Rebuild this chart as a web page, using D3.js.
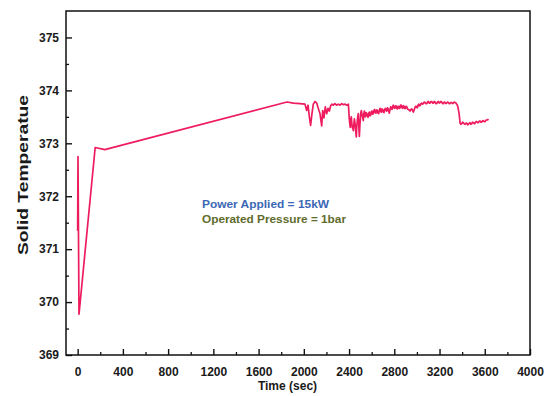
<!DOCTYPE html>
<html>
<head>
<meta charset="utf-8">
<script src="https://cdn.jsdelivr.net/npm/d3@7"></script>
<style>
  html, body { margin: 0; padding: 0; background: #fff; }
  svg { display: block; }
  text { font-family: "Liberation Sans", Arial, sans-serif; font-weight: bold; }
</style>
</head>
<body>
<svg id="chart" width="550" height="396"></svg>
<script>
// Time axis (seconds) and solid temperature readings
const timeSec = [
  0, 3, 12, 155, 240, 1851,
  1907, 1966, 2010, 2025, 2037, 2049, 2060, 2072, 2084, 2099, 2114, 2128, 2143, 2158,
  2167, 2178, 2190, 2202, 2214, 2226, 2237, 2249, 2261, 2275, 2290, 2305, 2320, 2335,
  2349, 2365, 2380, 2394, 2398, 2402, 2406, 2411, 2415, 2420, 2425, 2429, 2434, 2438,
  2443, 2447, 2451, 2455, 2460, 2464, 2468, 2473, 2478, 2482, 2487, 2491, 2496, 2500,
  2504, 2509, 2513, 2517, 2522, 2526, 2530, 2535, 2540, 2544, 2550, 2556, 2562, 2568,
  2574, 2579, 2585, 2591, 2597, 2603, 2609, 2615, 2620, 2626, 2632, 2638, 2644, 2650,
  2656, 2662, 2668, 2674, 2680, 2685, 2691, 2697, 2703, 2709, 2715, 2721, 2727, 2733,
  2739, 2744, 2750, 2756, 2762, 2768, 2774, 2780, 2786, 2792, 2797, 2803, 2809, 2815,
  2821, 2827, 2833, 2839, 2845, 2851, 2856, 2862, 2868, 2874, 2880, 2886, 2892, 2898,
  2904, 2910, 2917, 2925, 2932, 2939, 2946, 2954, 2961, 2969, 2975, 2980, 2986, 2992,
  2998, 3004, 3010, 3016, 3022, 3028, 3035, 3042, 3050, 3057, 3065, 3072, 3080, 3087,
  3094, 3101, 3108, 3116, 3124, 3131, 3139, 3146, 3153, 3160, 3168, 3175, 3183, 3190,
  3198, 3205, 3212, 3219, 3227, 3234, 3242, 3249, 3256, 3264, 3271, 3278, 3286, 3293,
  3300, 3308, 3315, 3323, 3330, 3337, 3345, 3352, 3358, 3364, 3373, 3382, 3389, 3396,
  3404, 3411, 3418, 3426, 3433, 3441, 3448, 3455, 3462, 3470, 3477, 3485, 3492, 3500,
  3507, 3514, 3521, 3529, 3536, 3544, 3551, 3559, 3566, 3573, 3581, 3588, 3595, 3603,
  3610, 3618, 3625, 3632
];
const solidTemp = [
  371.35, 372.75, 369.77, 372.92, 372.88, 373.78,
  373.76, 373.75, 373.74, 373.62, 373.72, 373.50, 373.34, 373.56, 373.74, 373.79, 373.76, 373.66, 373.56, 373.33,
  373.62, 373.48, 373.69, 373.56, 373.66, 373.61, 373.71, 373.74, 373.72, 373.75, 373.72, 373.74, 373.72, 373.75,
  373.73, 373.74, 373.72, 373.74, 373.60, 373.46, 373.38, 373.30, 373.45, 373.50, 373.36, 373.30, 373.28, 373.24,
  373.38, 373.46, 373.40, 373.34, 373.20, 373.12, 373.30, 373.43, 373.52, 373.56, 373.30, 373.13, 373.35, 373.46,
  373.58, 373.62, 373.55, 373.53, 373.47, 373.43, 373.55, 373.61, 373.54, 373.50, 373.58, 373.57, 373.51, 373.49,
  373.57, 373.59, 373.52, 373.53, 373.60, 373.61, 373.55, 373.56, 373.62, 373.64, 373.58, 373.57, 373.63, 373.62,
  373.57, 373.56, 373.63, 373.66, 373.60, 373.59, 373.65, 373.64, 373.59, 373.58, 373.64, 373.66, 373.62, 373.61,
  373.67, 373.66, 373.61, 373.57, 373.64, 373.69, 373.65, 373.64, 373.70, 373.72, 373.67, 373.66, 373.70, 373.71,
  373.66, 373.65, 373.70, 373.70, 373.66, 373.67, 373.72, 373.72, 373.67, 373.66, 373.71, 373.70, 373.66, 373.66,
  373.70, 373.69, 373.65, 373.64, 373.63, 373.61, 373.64, 373.65, 373.62, 373.59, 373.63, 373.66, 373.69, 373.70,
  373.68, 373.67, 373.72, 373.74, 373.71, 373.71, 373.75, 373.76, 373.74, 373.75, 373.78, 373.77, 373.75, 373.75,
  373.78, 373.79, 373.76, 373.76, 373.79, 373.79, 373.76, 373.76, 373.79, 373.78, 373.75, 373.75, 373.78, 373.79,
  373.76, 373.77, 373.79, 373.78, 373.75, 373.75, 373.78, 373.77, 373.75, 373.76, 373.78, 373.77, 373.75, 373.75,
  373.77, 373.77, 373.75, 373.76, 373.78, 373.77, 373.76, 373.74, 373.72, 373.67, 373.56, 373.38, 373.36, 373.37,
  373.40, 373.39, 373.37, 373.36, 373.38, 373.38, 373.35, 373.36, 373.38, 373.39, 373.36, 373.37, 373.40, 373.39,
  373.37, 373.38, 373.41, 373.41, 373.39, 373.39, 373.42, 373.42, 373.40, 373.40, 373.43, 373.42, 373.41, 373.41,
  373.44, 373.44, 373.44, 373.46
];

const xTickValues = [0, 400, 800, 1200, 1600, 2000, 2400, 2800, 3200, 3600, 4000];
const xMinorTicks = [200, 600, 1000, 1400, 1800, 2200, 2600, 3000, 3400, 3800];
const yTickValues = [369, 370, 371, 372, 373, 374, 375];
const yMinorTicks = [369.5, 370.5, 371.5, 372.5, 373.5, 374.5];

const notes = ["Power Applied = 15kW", "Operated Pressure = 1bar"];
const xTitle = "Time (sec)";
const yTitle = "Solid Temperatue";

const svg = d3.select("#chart");
const plotL = 66, plotR = 530, plotT = 11, plotB = 355;

const x = d3.scaleLinear().domain([-103, 4000]).range([plotL, plotR]);
const y = d3.scaleLinear().domain([369, 375.5]).range([plotB, plotT]);

function styleTicks(g, w) {
  g.select(".domain").remove();
  g.selectAll("line").attr("stroke", "#111").attr("stroke-width", w);
  g.selectAll("text").attr("fill", "#1a1a1a").style("font-size", "12px")
    .style("font-family", "'Liberation Sans', Arial, sans-serif").style("font-weight", "bold");
}

// minor ticks (inside, no labels)
svg.append("g")
  .attr("transform", `translate(0,${plotB})`)
  .call(d3.axisBottom(x).tickValues(xMinorTicks).tickSizeInner(-3).tickSizeOuter(0).tickFormat(""))
  .call(g => styleTicks(g, 1.3));

svg.append("g")
  .attr("transform", `translate(${plotL},0)`)
  .call(d3.axisLeft(y).tickValues(yMinorTicks).tickSizeInner(-3).tickSizeOuter(0).tickFormat(""))
  .call(g => styleTicks(g, 1.3));

// major ticks with labels
svg.append("g")
  .attr("transform", `translate(0,${plotB})`)
  .call(d3.axisBottom(x).tickValues(xTickValues).tickSizeInner(-6).tickSizeOuter(0).tickPadding(12).tickFormat(d3.format("d")))
  .call(g => styleTicks(g, 1.4));

svg.append("g")
  .attr("transform", `translate(${plotL},0)`)
  .call(d3.axisLeft(y).tickValues(yTickValues).tickSizeInner(-6).tickSizeOuter(0).tickPadding(7).tickFormat(d3.format("d")))
  .call(g => styleTicks(g, 1.4));

// frame
svg.append("rect")
  .attr("x", plotL).attr("y", plotT)
  .attr("width", plotR - plotL).attr("height", plotB - plotT)
  .attr("fill", "none").attr("stroke", "#111").attr("stroke-width", 1.5);

// temperature trace
const pts = timeSec.map((t, i) => [t, solidTemp[i]]);
const line = d3.line().x(d => x(d[0])).y(d => y(d[1]));
svg.append("path")
  .datum(pts)
  .attr("d", line)
  .attr("fill", "none")
  .attr("stroke", "#ee1c5f")
  .attr("stroke-width", 1.7)
  .attr("stroke-linejoin", "round");

// operating conditions
svg.append("text")
  .attr("x", 202).attr("y", 207.5)
  .attr("fill", "#3b68b5").style("font-size", "11px")
  .attr("textLength", 127).attr("lengthAdjust", "spacingAndGlyphs")
  .text(notes[0]);
svg.append("text")
  .attr("x", 202).attr("y", 222.5)
  .attr("fill", "#5f6b2c").style("font-size", "11px")
  .attr("textLength", 144).attr("lengthAdjust", "spacingAndGlyphs")
  .text(notes[1]);

// axis titles
svg.append("text")
  .attr("x", 287.5).attr("y", 390)
  .attr("text-anchor", "middle")
  .attr("fill", "#1a1a1a").style("font-size", "12px")
  .text(xTitle);

svg.append("text")
  .attr("transform", "translate(28,175) rotate(-90)")
  .attr("text-anchor", "middle")
  .attr("fill", "#1a1a1a").style("font-size", "15px")
  .attr("textLength", 160).attr("lengthAdjust", "spacingAndGlyphs")
  .text(yTitle);
</script>
</body>
</html>
